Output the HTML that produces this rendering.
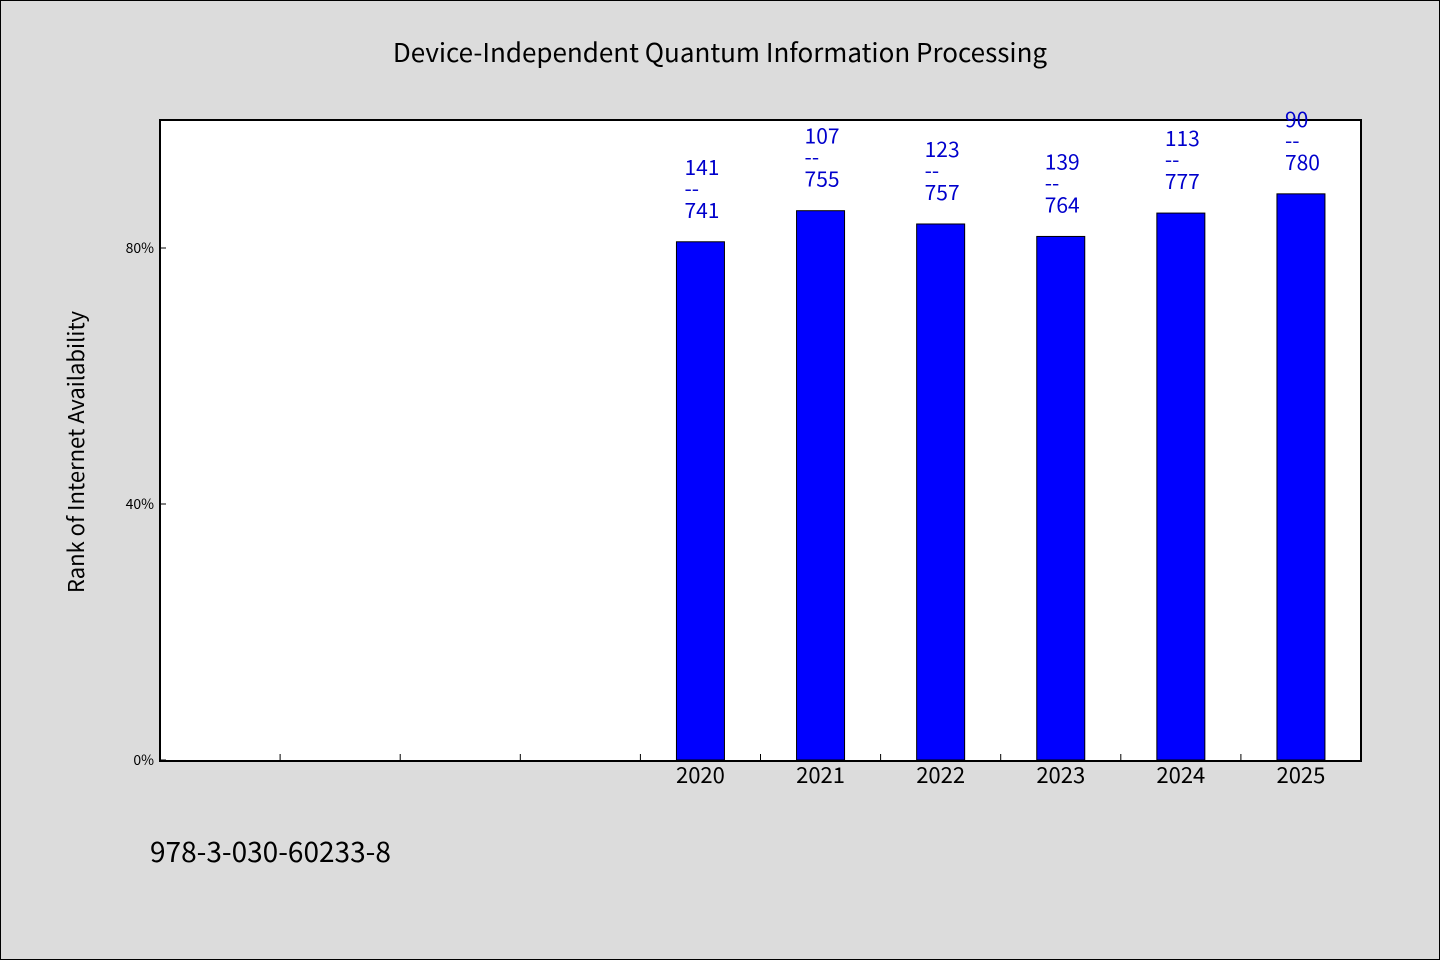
<!DOCTYPE html>
<html><head><meta charset="utf-8"><style>
html,body{margin:0;padding:0;background:#dcdcdc;}
svg{display:block;font-family:"WenQuanYi Zen Hei","Noto Sans CJK SC","Liberation Sans",sans-serif;}
</style></head><body>
<svg id="chart" width="1440" height="960">
<rect x="0.5" y="0.5" width="1439" height="959" fill="#dcdcdc" stroke="#000"/>
<text x="720" y="62" text-anchor="middle" font-size="26">Device-Independent Quantum Information Processing</text>
<rect x="160" y="120" width="1201" height="641" fill="#fff" stroke="#000" stroke-width="2"/>
<text transform="translate(84,452) rotate(-90)" text-anchor="middle" font-size="22">Rank of Internet Availability</text>
<text x="150" y="862" font-size="28">978-3-030-60233-8</text>
<g id="marks"></g>
</svg>
<script>
const categories = ["", "", "", "", "2020", "2021", "2022", "2023", "2024", "2025"];
const ranks = [null, null, null, null, 141, 107, 123, 139, 113, 90];
const totals = [null, null, null, null, 741, 755, 757, 764, 777, 780];
const yTicks = [0, 40, 80];
const NS = "http://www.w3.org/2000/svg";
const g = document.getElementById("marks");
const x0 = 160, x1 = 1361, y0 = 760, yTop = 120;
const slot = (x1 - x0) / categories.length;
const xc = i => x0 + slot * (i + 0.5);
const y = p => y0 - (y0 - yTop) * p / 100;
function el(t, a) { const e = document.createElementNS(NS, t); for (const k in a) e.setAttribute(k, a[k]); g.appendChild(e); return e; }
yTicks.forEach(t => {
  const l = el("line", {x1: x0, x2: x0 + 6, y1: y(t), y2: y(t), stroke: "#000"});
  
  
  const tx = el("text", {x: x0 - 6, y: y(t) + 5, "text-anchor": "end", "font-size": 14});
  tx.textContent = t + "%";
  
  
});
for (let i = 1; i < categories.length; i++) {
  const l = el("line", {x1: x0 + slot * i, x2: x0 + slot * i, y1: y0, y2: y0 - 6, stroke: "#000"});
  
  
}
categories.forEach((c, i) => {
  if (!c) return;
  const tx = el("text", {x: xc(i), y: 783, "text-anchor": "middle", "font-size": 22});
  tx.textContent = c;
  
  
  const v = (1 - ranks[i] / totals[i]) * 100;
  const b = el("rect", {x: xc(i) - 24, y: y(v), width: 48, height: y0 - y(v), fill: "#0000ff", stroke: "#000", "stroke-width": 1});
  
  
  const top = y(v);
  const lines = [String(ranks[i]), "--", String(totals[i])];
  const ys = [top - 67, top - 46, top - 24];
  lines.forEach((s, k) => {
    const t = el("text", {x: xc(i) - 16, y: ys[k], "font-size": 21, fill: "#0000cc"});
    t.textContent = s;
    
    
  });
});
</script>
</body></html>
